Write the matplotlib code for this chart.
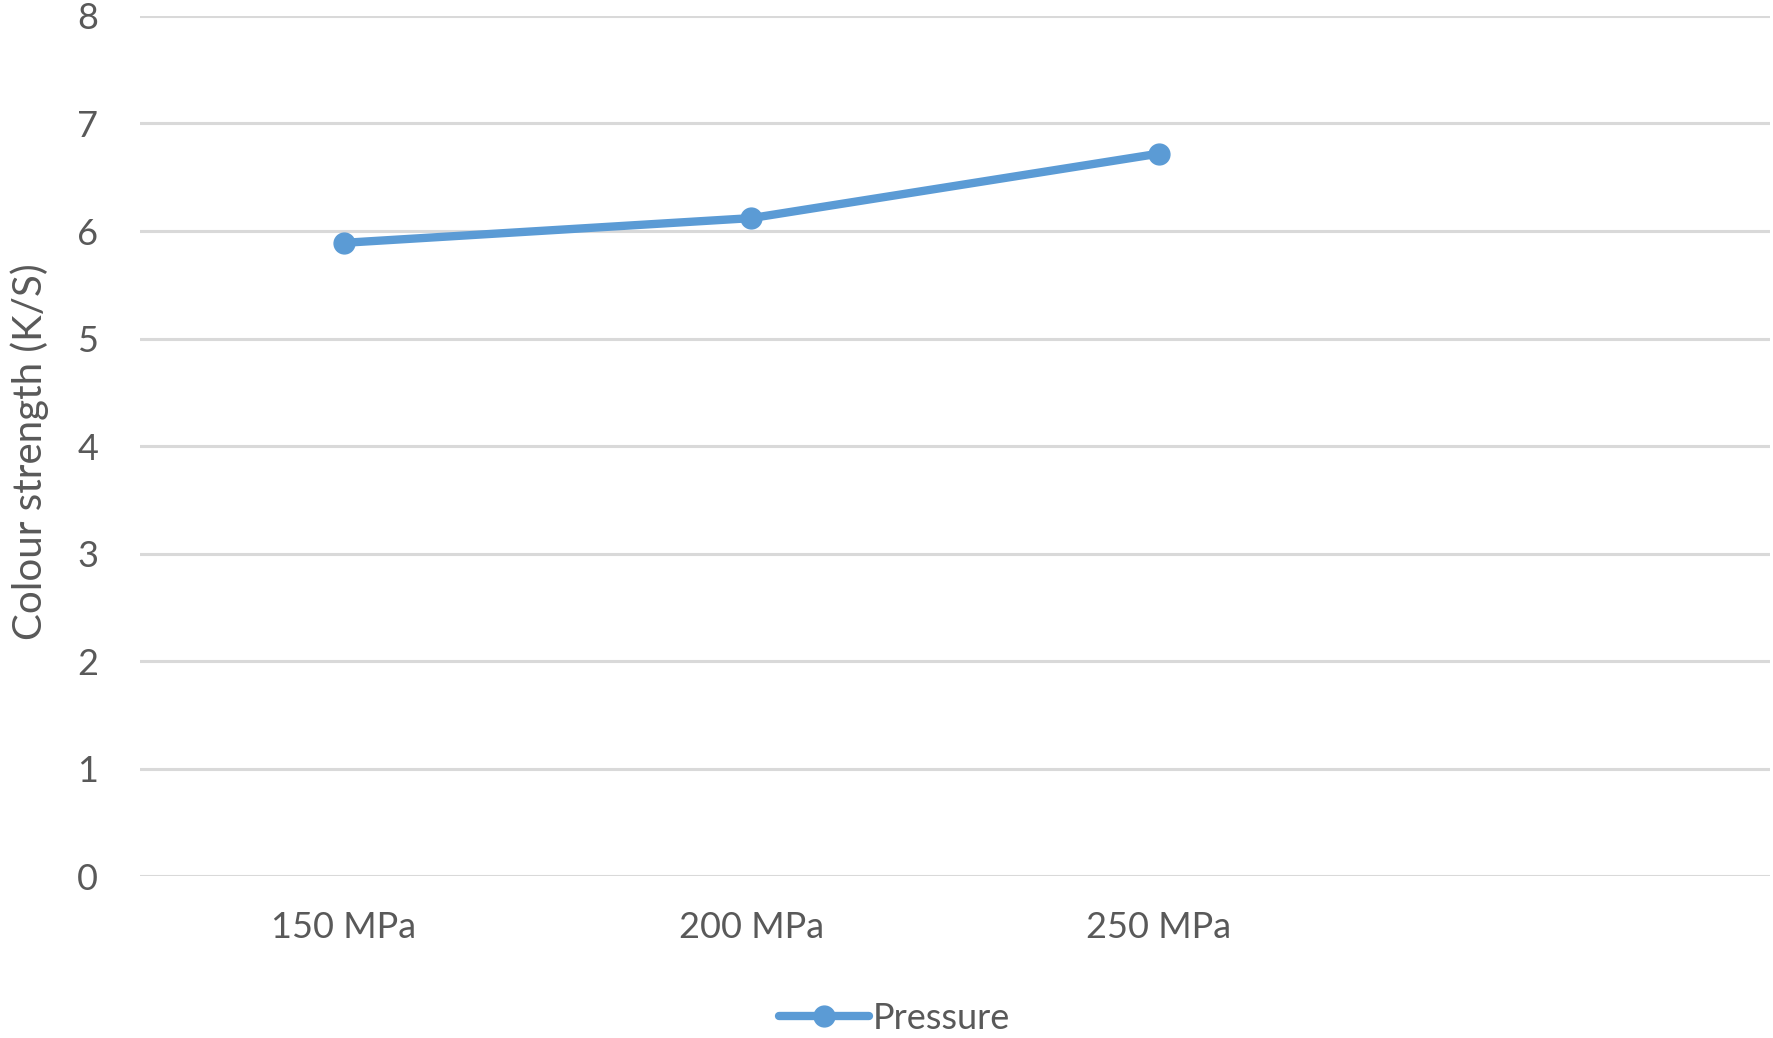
import numpy as np
import matplotlib
matplotlib.use("Agg")
import matplotlib.pyplot as plt

categories = ["150 MPa", "200 MPa", "250 MPa"]
colour_strength = [5.89, 6.12, 6.72]
series_name = "Pressure"
y_label = "Colour strength (K/S)"
y_ticks = [0, 1, 2, 3, 4, 5, 6, 7, 8]

plt.rcParams["font.family"] = ["Lato", "DejaVu Sans"]

fig = plt.figure(figsize=(17.74, 10.38), dpi=100)
ax = fig.add_axes([0.0789, 0.156, 0.9191, 0.8286])

x = np.arange(len(categories)) + 0.5
ax.plot(x, colour_strength, color="#5b9bd5", lw=6, marker="o", ms=15,
        label=series_name, solid_capstyle="round", zorder=3)

ax.set_xlim(0, 4)
ax.set_ylim(0, 8)
ax.set_xticks(x, categories)
ax.set_yticks(y_ticks)
ax.grid(axis="y", color="#d9d9d9", lw=2.2)
ax.set_axisbelow(True)
for s in ax.spines.values():
    s.set_visible(False)
ax.tick_params(axis="both", length=0, labelsize=26, colors="#595959")
ax.tick_params(axis="y", pad=30)
ax.tick_params(axis="x", pad=25)
ax.set_ylabel(y_label, fontsize=29, color="#595959")
ax.yaxis.set_label_coords(-0.056, 0.494)

fig.legend(loc="center", bbox_to_anchor=(0.504, 0.019), frameon=False,
           fontsize=26, labelcolor="#595959", handlelength=2.5,
           handletextpad=0.1)

fig.savefig("out.png", dpi=100)
